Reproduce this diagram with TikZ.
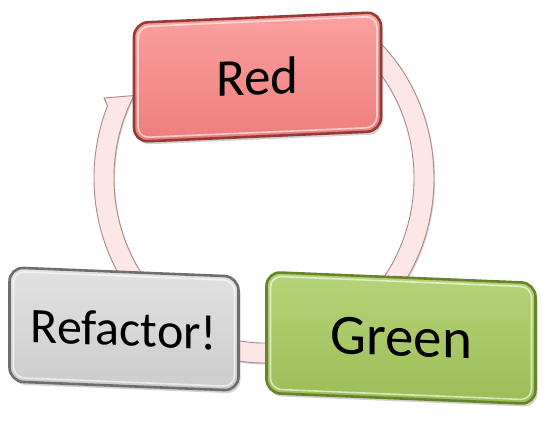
\documentclass[tikz,border=0pt]{standalone}
\usepackage{fontspec}
\setmainfont{Carlito}
\usetikzlibrary{calc,shadows}
\definecolor{ringfill}{HTML}{FDE6E6}
\definecolor{ringdraw}{HTML}{A88888}
\definecolor{redborder}{HTML}{963A36}
\definecolor{redtop}{HTML}{FBA2A0}
\definecolor{redbot}{HTML}{EE7D7C}
\definecolor{greenborder}{HTML}{66852A}
\definecolor{greentop}{HTML}{B6D478}
\definecolor{greenbot}{HTML}{9CBD58}
\definecolor{greyborder}{HTML}{6E6E6E}
\definecolor{greytop}{HTML}{E2E2E2}
\definecolor{greybot}{HTML}{CCCCCC}
\begin{document}
\begin{tikzpicture}[x=1pt,y=1pt,
  boxtext/.style={font=\fontsize{#1}{#1}\selectfont, text=black},
  cyclebox/.style={rectangle, rounded corners=14pt, line width=2.6pt, transform shape, inner sep=0pt, shading angle=15,
    drop shadow={opacity=0.35, shadow xshift=2pt, shadow yshift=-3pt}},
  rim/.style={rounded corners=11pt, line width=1.6pt, draw=white, draw opacity=0.6},
  ringstyle/.style={fill=ringfill, draw=ringdraw, line width=0.9pt,
    drop shadow={opacity=0.35, shadow xshift=1pt, shadow yshift=-1.5pt}}
]
\fill[white] (0,0) rectangle (550,-421);
\useasboundingbox (0,0) rectangle (550,-421);
\coordinate (ctr) at (264,-178);
% circular arrow behind the boxes
\path[ringstyle] ($(ctr)+(50:170 and 185)$)
  arc[start angle=50, end angle=-203, x radius=170, y radius=185]
  -- (104,-98) -- (140,-95)
  -- ($(ctr)+(-210:150 and 165)$)
  arc[start angle=-210, end angle=50, x radius=150, y radius=165] -- cycle;
% Red
\begin{scope}[shift={(257.5,-77)}, yslant=0.043]
  \node[cyclebox, draw=redborder, top color=redtop, bottom color=redbot,
        minimum width=247pt, minimum height=119pt, boxtext=53] (red) at (0,0) {Red};
  \draw[rim] (-119.5,-55.5) rectangle (119.5,55.5);
\end{scope}
% Refactor
\begin{scope}[shift={(124,-329)}, yslant=-0.04]
  \node[cyclebox, draw=greyborder, top color=greytop, bottom color=greybot,
        minimum width=229pt, minimum height=114pt, boxtext=50] (refactor) at (0,0) {Refactor!};
  \draw[rim] (-110.5,-53) rectangle (110.5,53);
\end{scope}
% Green
\begin{scope}[shift={(401,-338)}, yslant=-0.041]
  \node[cyclebox, draw=greenborder, top color=greentop, bottom color=greenbot,
        minimum width=269pt, minimum height=121pt, boxtext=57] (green) at (0,0) {Green};
  \draw[rim] (-130.5,-56.5) rectangle (130.5,56.5);
\end{scope}
\end{tikzpicture}
\end{document}
